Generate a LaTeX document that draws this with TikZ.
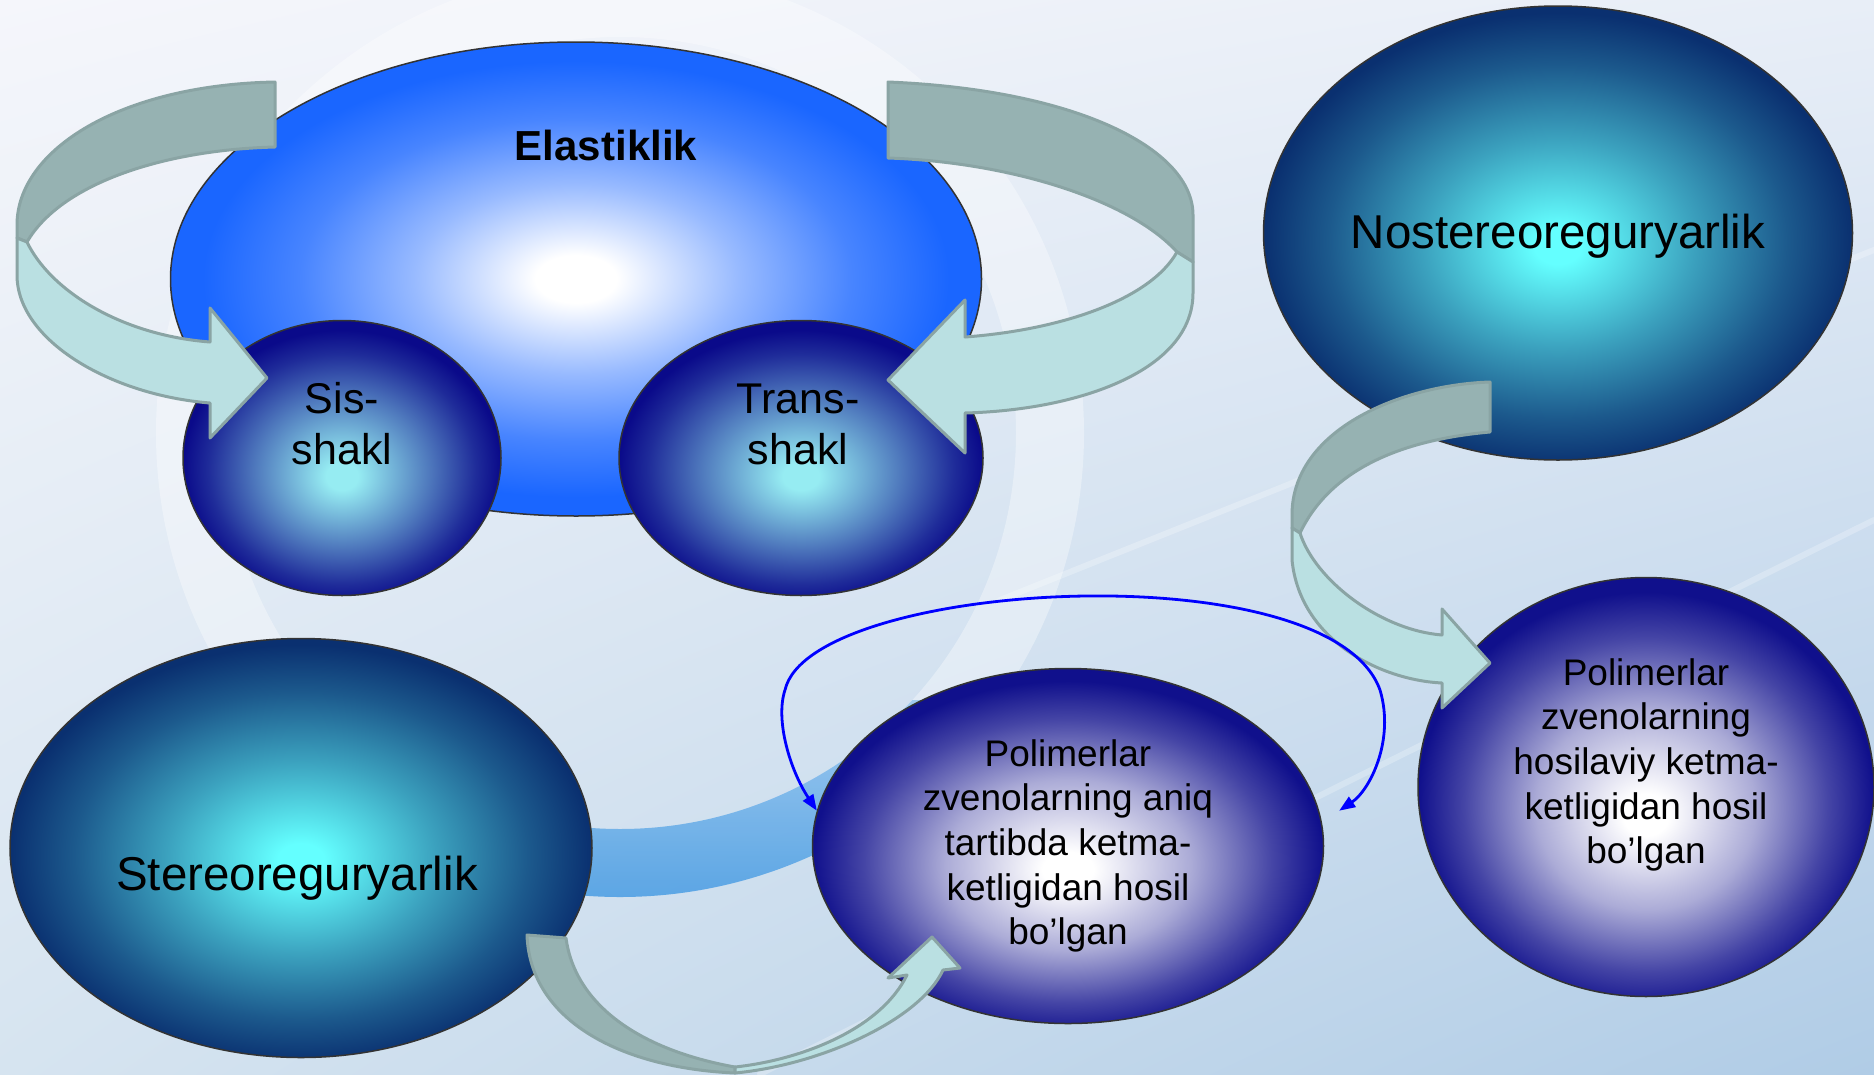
\documentclass[tikz,border=0pt]{standalone}
\usepackage{fontspec}
\setmainfont{Liberation Sans}
\usetikzlibrary{shapes.geometric, arrows.meta, shadings}

\definecolor{elastblue}{RGB}{26,102,255}
\definecolor{smallin}{RGB}{150,236,242}
\definecolor{smallout}{RGB}{10,10,138}
\definecolor{bigin}{RGB}{100,255,255}
\definecolor{bigout}{RGB}{10,48,112}
\definecolor{polyout}{RGB}{16,16,140}
\definecolor{bandback}{RGB}{150,178,178}
\definecolor{bandfront}{RGB}{186,224,226}
\definecolor{bandedge}{RGB}{138,164,164}
\definecolor{ringblue}{RGB}{80,160,228}
\definecolor{bgtl}{RGB}{245,246,251}
\definecolor{bgtr}{RGB}{232,238,247}
\definecolor{bgbl}{RGB}{214,228,240}
\definecolor{bgbr}{RGB}{176,204,230}

\pgfdeclareradialshading{elastshade}{\pgfpoint{0bp}{0bp}}{color(0bp)=(white); color(2.5bp)=(white); color(10bp)=(elastblue!45!white); color(17bp)=(elastblue!80!white); color(23bp)=(elastblue); color(50bp)=(elastblue)}
\pgfdeclareradialshading{smallshade}{\pgfpoint{0bp}{-3.5bp}}{color(0bp)=(smallin); color(2.5bp)=(smallin); color(13.5bp)=(smallin!50!smallout); color(21bp)=(smallin!15!smallout); color(25bp)=(smallout); color(50bp)=(smallout)}
\pgfdeclareradialshading{bigshade}{\pgfpoint{0bp}{-1.5bp}}{color(0bp)=(bigin); color(2bp)=(bigin); color(11.5bp)=(bigin!55!bigout); color(19.5bp)=(bigin!20!bigout); color(25bp)=(bigout); color(50bp)=(bigout)}
\pgfdeclareradialshading{polyshade}{\pgfpoint{0bp}{-3.5bp}}{color(0bp)=(white); color(2.5bp)=(white); color(12bp)=(polyout!35!white); color(20bp)=(polyout!78!white); color(25bp)=(polyout); color(50bp)=(polyout)}

\tikzset{
    ball/.style={ellipse, draw=black!80, line width=1.5pt, inner sep=0pt, shade},
    elastball/.style={ball, shading=elastshade},
    smallball/.style={ball, shading=smallshade},
    bigball/.style={ball, shading=bigshade},
    polyball/.style={ball, shading=polyshade},
    boldtext/.style={font=\fontsize{42pt}{50pt}\selectfont\bfseries, text=black},
    midtext/.style={font=\fontsize{43pt}{51pt}\selectfont, align=center, text=black},
    bigtext/.style={font=\fontsize{47.5pt}{57pt}\selectfont, align=center, text=black},
    smalltext/.style={font=\fontsize{37pt}{44.6pt}\selectfont, align=center, text=black},
    backband/.style={fill=bandback, draw=bandedge, line width=3pt, line join=round},
    frontband/.style={fill=bandfront, draw=bandedge, line width=3pt, line join=round},
    loopline/.style={blue, line width=2.8pt, {Triangle[length=16pt,width=12pt]}-{Triangle[length=16pt,width=12pt]}},
    streak/.style={white, line width=6pt, opacity=0.25, line cap=round},
    ringlight/.style={even odd rule, fill=white, fill opacity=0.35},
    ringband/.style={even odd rule, top color=white, bottom color=ringblue, middle color=white, fill opacity=0.9}
}

\begin{document}
\begin{tikzpicture}[x=1pt, y=-1pt]
        \useasboundingbox (0,0) rectangle (1874,1074);
        \shade[upper left=bgtl, upper right=bgtr, lower left=bgbl, lower right=bgbr] (0,0) rectangle (1874,1074);
        \draw[streak] (760,1074) -- (1874,520);
        \draw[streak] (1000,600) -- (1874,250);
        \begin{scope}
            \clip (0,0) rectangle (1874,700);
            \fill[ringlight] (620,433) circle[radius=464] (620,433) circle[radius=396];
        \end{scope}
        \begin{scope}
            \clip (0,700) rectangle (1874,1074);
            \shade[ringband] (620,433) circle[radius=464] (620,433) circle[radius=396];
        \end{scope}

        % upper group
        \node[elastball, minimum width=811pt, minimum height=474pt,
            label={[name=elastlbl, boldtext, xshift=30pt, yshift=134pt]center:Elastiklik}] (elast) at (576,279) {};
        \node[smallball, minimum width=318pt, minimum height=275pt,
            label={[name=sislbl, midtext, yshift=34pt]center:{Sis-\\shakl}}] (sis) at (342,458) {};
        \node[smallball, minimum width=364pt, minimum height=275pt,
            label={[name=translbl, midtext, xshift=-3pt, yshift=34pt]center:{Trans-\\shakl}}] (trans) at (801,458) {};

        \filldraw[backband] (275,82) .. controls (120,85) and (17,150) .. (17,225) -- (17,238) -- (27,242) .. controls (60,185) and (160,150) .. (275,147) -- cycle;
        \filldraw[frontband] (17,238) -- (17,275) .. controls (17,340) and (110,395) .. (210,403) -- (210,438) -- (267,378) -- (210,308) -- (210,342) .. controls (120,335) and (50,290) .. (27,242) -- cycle;
        \filldraw[backband] (888,82) .. controls (1080,90) and (1193,150) .. (1193,215) -- (1193,262) -- (1177,252) .. controls (1130,200) and (1010,162) .. (888,158) -- cycle;
        \filldraw[frontband] (1193,262) -- (1193,293) .. controls (1193,370) and (1080,410) .. (965,413) -- (965,453) -- (888,380) -- (965,300) -- (965,337) .. controls (1060,330) and (1150,300) .. (1177,252) -- cycle;

        % right group
        \node[bigball, minimum width=589pt, minimum height=454pt,
            label={[name=nostlbl, bigtext, yshift=-3pt]center:Nostereoreguryarlik}] (nost) at (1558,233) {};
        \node[polyball, minimum width=456pt, minimum height=419pt,
            label={[name=hosillbl, smalltext, yshift=22pt]center:{Polimerlar\\zvenolarning\\hosilaviy ketma-\\ketligidan hosil\\bo’lgan}}] (hosil) at (1646,787) {};
        \filldraw[backband] (1490,382) .. controls (1400,385) and (1292,430) .. (1292,515) -- (1292,528) -- (1300,533) .. controls (1330,470) and (1400,440) .. (1490,432) -- cycle;
        \filldraw[frontband] (1292,528) -- (1292,560) .. controls (1300,640) and (1380,680) .. (1442,683) -- (1442,708) -- (1490,663) -- (1442,609) -- (1442,635) .. controls (1380,630) and (1315,580) .. (1300,533) -- cycle;

        % lower group
        \node[bigball, minimum width=582pt, minimum height=419pt,
            label={[name=sterlbl, bigtext, xshift=-4pt, yshift=-30pt]center:Stereoreguryarlik}] (ster) at (301,848) {};
        \node[polyball, minimum width=511pt, minimum height=355pt,
            label={[name=aniqlbl, smalltext]center:{Polimerlar\\zvenolarning aniq\\tartibda ketma-\\ketligidan hosil\\bo’lgan}}] (aniq) at (1068,846) {};
        \filldraw[backband] (527,935) .. controls (530,1020) and (620,1068) .. (735,1073) -- (735,1067) .. controls (640,1050) and (575,1005) .. (566,938) -- cycle;
        \filldraw[frontband] (735,1073) .. controls (820,1065) and (920,1020) .. (943,970) -- (960,968) -- (932,937) -- (888,978) -- (907,975) .. controls (880,1030) and (800,1060) .. (735,1067) -- cycle;

        \draw[loopline] ([xshift=20pt]aniq.8) .. controls (1370,790) and (1395,740) .. (1380,690) .. controls (1330,550) and (810,580) .. (785,690) .. controls (775,720) and (790,770) .. (aniq.172);
\end{tikzpicture}
\end{document}
